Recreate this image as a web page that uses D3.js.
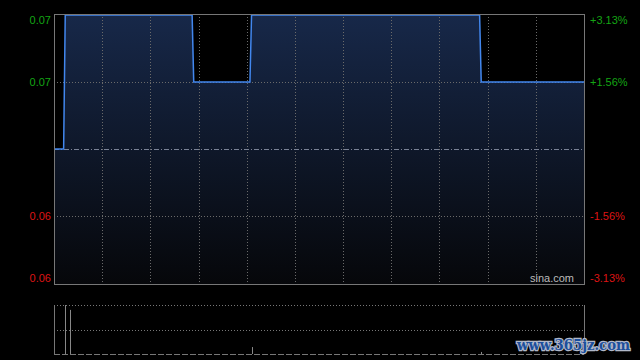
<!DOCTYPE html>
<html>
<head>
<meta charset="utf-8">
<script src="https://cdn.jsdelivr.net/npm/d3@7"></script>
<style>
  html, body { margin: 0; padding: 0; background: #000; }
  svg { display: block; }
</style>
</head>
<body>
<div id="chart"></div>
<script>
// intraday minute chart, 09:30-12:00 + 13:00-16:00 = 330 minutes
var prevClose = 0.064;
// minutes where the price changes, and the price at that minute
var minutes = [0, 6, 7, 86, 87, 122, 123, 265, 266, 330];
var prices  = [0.064, 0.064, 0.066, 0.066, 0.065, 0.065, 0.066, 0.066, 0.065, 0.065];
// volume bars (minute, shares)
var volMinutes = [7, 10, 123, 266];
var volValues  = [120000, 108000, 17000, 5000];
// axis ticks
var priceTicks = [0.066, 0.065, 0.063, 0.062];
var priceLabels = ["0.07", "0.07", "0.06", "0.06"];
var pctLabels = ["+3.13%", "+1.56%", "-1.56%", "-3.13%"];

var width = 640, height = 360;
var margin = {left: 54, right: 56};
var plotTop = 14, plotBottom = 284;
var volTop = 305, volBottom = 354;

var svg = d3.select("#chart").append("svg")
    .attr("width", width)
    .attr("height", height)
    .style("background", "#000");

var x = d3.scaleLinear().domain([0, 330]).range([margin.left, width - margin.right]);
var y = d3.scaleLinear().domain([0.062, 0.066]).range([plotBottom - 1, plotTop + 1]);
var yVol = d3.scaleLinear().domain([0, d3.max(volValues)]).range([volBottom, volTop]);

var data = minutes.map(function(m, i) { return {m: m, p: prices[i]}; });

// gradient under the line
var defs = svg.append("defs");
var grad = defs.append("linearGradient")
    .attr("id", "fillGrad")
    .attr("gradientUnits", "userSpaceOnUse")
    .attr("x1", 0).attr("x2", 0)
    .attr("y1", plotTop).attr("y2", plotBottom);
grad.append("stop").attr("offset", "0%").attr("stop-color", "#172849");
grad.append("stop").attr("offset", "100%").attr("stop-color", "#06070a");

var area = d3.area()
    .x(function(d) { return x(d.m); })
    .y0(plotBottom)
    .y1(function(d) { return y(d.p); });

svg.append("path")
    .datum(data)
    .attr("d", area)
    .attr("fill", "url(#fillGrad)");

// grid
var vTicks = d3.range(1, 11).map(function(i) { return i * 30; });
svg.append("g").selectAll("line")
    .data(vTicks)
    .enter().append("line")
    .attr("x1", function(d) { return Math.round(x(d)) + 0.5; })
    .attr("x2", function(d) { return Math.round(x(d)) + 0.5; })
    .attr("y1", plotTop)
    .attr("y2", plotBottom)
    .attr("stroke", "#6a6a6a")
    .attr("stroke-dasharray", "1,2");

svg.append("g").selectAll("line")
    .data([0.065, 0.063])
    .enter().append("line")
    .attr("x1", margin.left)
    .attr("x2", width - margin.right)
    .attr("y1", function(d) { return Math.round(y(d)) + 0.5; })
    .attr("y2", function(d) { return Math.round(y(d)) + 0.5; })
    .attr("stroke", "#6a6a6a")
    .attr("stroke-dasharray", "1,2");

// previous close line
svg.append("line")
    .attr("x1", margin.left)
    .attr("x2", width - margin.right)
    .attr("y1", Math.round(y(prevClose)) + 0.5)
    .attr("y2", Math.round(y(prevClose)) + 0.5)
    .attr("stroke", "#7a8296")
    .attr("stroke-dasharray", "5,2,1,2");

// price line
var line = d3.line()
    .x(function(d) { return x(d.m); })
    .y(function(d) { return y(d.p); });

svg.append("path")
    .datum(data)
    .attr("d", line)
    .attr("fill", "none")
    .attr("stroke", "#4287ee")
    .attr("stroke-width", 1.5);

// frame
svg.append("rect")
    .attr("x", margin.left + 0.5)
    .attr("y", plotTop + 0.5)
    .attr("width", width - margin.right - margin.left)
    .attr("height", plotBottom - plotTop)
    .attr("fill", "none")
    .attr("stroke", "#777");

// labels
function labelY(d, i) {
    var v = y(d) + 4;
    if (i == 0) v += 5;
    if (i == priceTicks.length - 1) v -= 5;
    return v;
}
function labelColor(d) {
    return d > prevClose ? "#14a514" : "#dd1414";
}

svg.append("g").selectAll("text")
    .data(priceTicks)
    .enter().append("text")
    .attr("x", 51)
    .attr("y", labelY)
    .attr("text-anchor", "end")
    .attr("font-family", "Liberation Sans, Arial, sans-serif")
    .attr("font-size", 11)
    .attr("fill", labelColor)
    .text(function(d, i) { return priceLabels[i]; });

svg.append("g").selectAll("text")
    .data(priceTicks)
    .enter().append("text")
    .attr("x", 590)
    .attr("y", labelY)
    .attr("text-anchor", "start")
    .attr("font-family", "Liberation Sans, Arial, sans-serif")
    .attr("font-size", 11)
    .attr("fill", labelColor)
    .text(function(d, i) { return pctLabels[i]; });

svg.append("text")
    .attr("x", 574)
    .attr("y", 282)
    .attr("text-anchor", "end")
    .attr("font-family", "Liberation Sans, Arial, sans-serif")
    .attr("font-size", 11)
    .attr("fill", "#bbb")
    .text("sina.com");

// volume panel
svg.append("line")
    .attr("x1", margin.left).attr("x2", width - margin.right)
    .attr("y1", volTop + 0.5).attr("y2", volTop + 0.5)
    .attr("stroke", "#777").attr("stroke-dasharray", "1,2");
svg.append("line")
    .attr("x1", margin.left).attr("x2", width - margin.right)
    .attr("y1", 330.5).attr("y2", 330.5)
    .attr("stroke", "#777").attr("stroke-dasharray", "1,2");
svg.append("line")
    .attr("x1", margin.left).attr("x2", width - margin.right)
    .attr("y1", volBottom + 0.5).attr("y2", volBottom + 0.5)
    .attr("stroke", "#777").attr("stroke-dasharray", "6,2");
svg.append("line")
    .attr("x1", margin.left + 0.5).attr("x2", margin.left + 0.5)
    .attr("y1", volTop).attr("y2", volBottom)
    .attr("stroke", "#777");
svg.append("line")
    .attr("x1", width - margin.right + 0.5).attr("x2", width - margin.right + 0.5)
    .attr("y1", volTop).attr("y2", volBottom)
    .attr("stroke", "#777");

svg.append("g").selectAll("line")
    .data(volMinutes)
    .enter().append("line")
    .attr("x1", function(d) { return Math.round(x(d)) + 0.5; })
    .attr("x2", function(d) { return Math.round(x(d)) + 0.5; })
    .attr("y1", function(d, i) { return yVol(volValues[i]); })
    .attr("y2", volBottom)
    .attr("stroke", "#888");

// site watermark
svg.append("text")
    .attr("x", 517)
    .attr("y", 350)
    .attr("text-anchor", "start")
    .attr("font-family", "DejaVu Serif, serif")
    .attr("font-weight", "bold")
    .attr("font-size", 14)
    .attr("textLength", 113)
    .attr("lengthAdjust", "spacingAndGlyphs")
    .attr("fill", "#1c4f9c")
    .attr("stroke", "#b0b8c8")
    .attr("stroke-width", 2.5)
    .attr("paint-order", "stroke")
    .text("www.365jz.com");
</script>
</body>
</html>
